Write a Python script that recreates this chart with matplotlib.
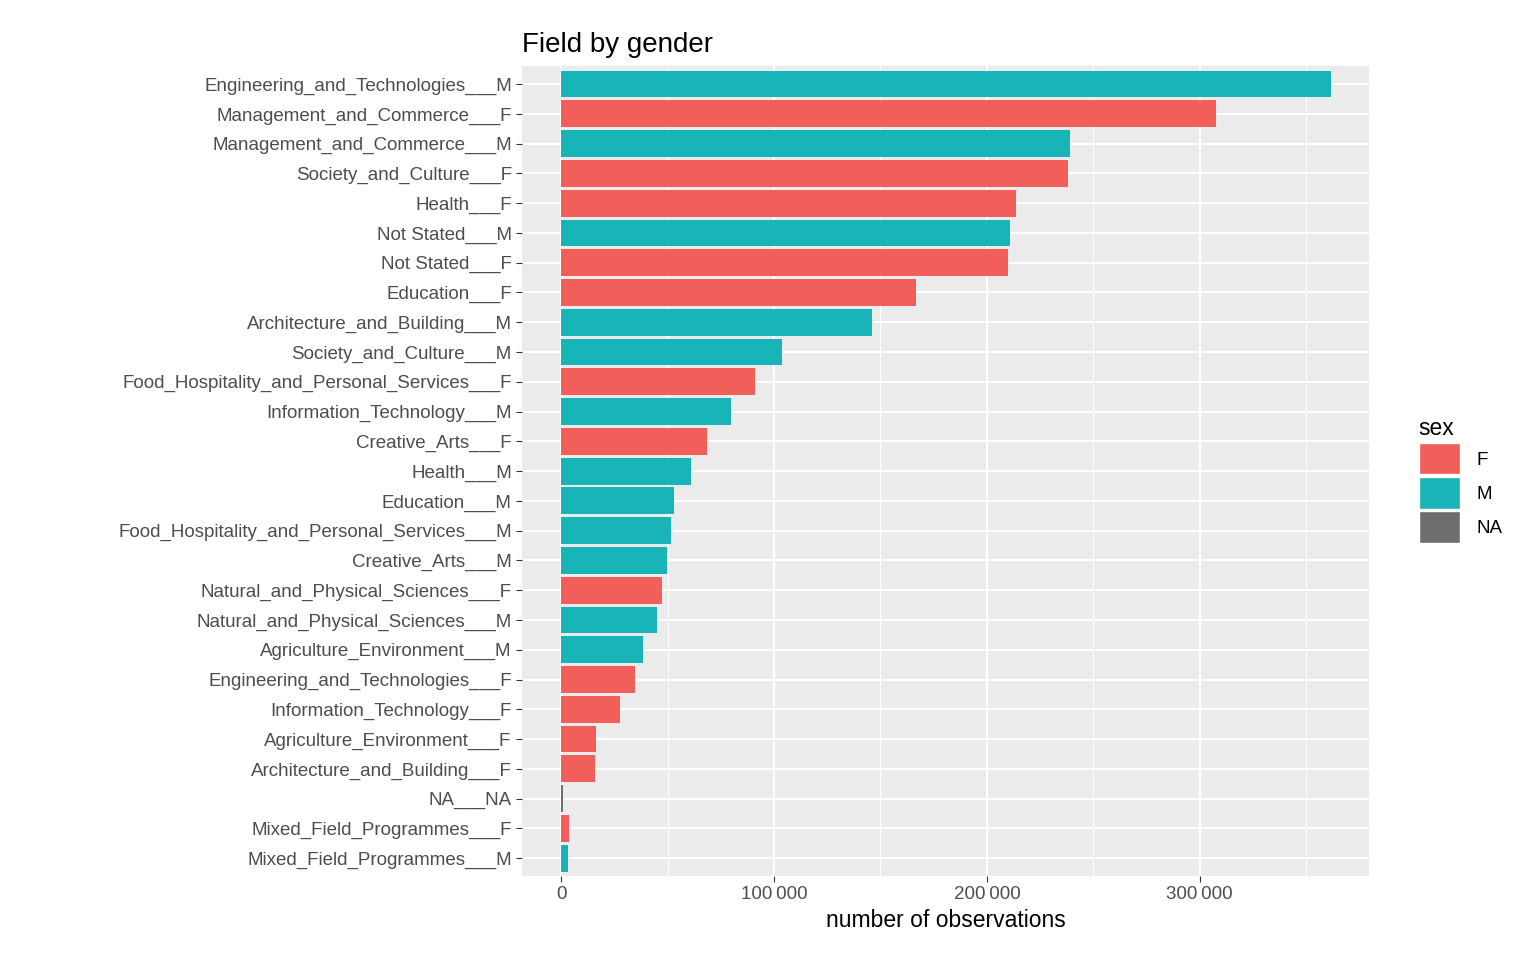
import matplotlib.pyplot as plt
from matplotlib.patches import Patch
from matplotlib.ticker import FuncFormatter, MultipleLocator

plt.rcParams['font.family'] = ['Liberation Sans', 'DejaVu Sans']

labels = [
    'Engineering_and_Technologies___M', 'Management_and_Commerce___F', 'Management_and_Commerce___M',
    'Society_and_Culture___F', 'Health___F', 'Not Stated___M', 'Not Stated___F', 'Education___F',
    'Architecture_and_Building___M', 'Society_and_Culture___M', 'Food_Hospitality_and_Personal_Services___F',
    'Information_Technology___M', 'Creative_Arts___F', 'Health___M', 'Education___M',
    'Food_Hospitality_and_Personal_Services___M', 'Creative_Arts___M', 'Natural_and_Physical_Sciences___F',
    'Natural_and_Physical_Sciences___M', 'Agriculture_Environment___M', 'Engineering_and_Technologies___F',
    'Information_Technology___F', 'Agriculture_Environment___F', 'Architecture_and_Building___F',
    'NA___NA', 'Mixed_Field_Programmes___F', 'Mixed_Field_Programmes___M']
values = [361500, 307500, 239000, 238000, 213600, 210800, 209900, 166700, 146000, 103800, 91100,
          79800, 68500, 61000, 53000, 51600, 49800, 47400, 45100, 38500, 34700, 27700, 16400,
          16000, 900, 3800, 3300]
sex = [l.split('___')[1] for l in labels]

colors = {'F': '#F25E5A', 'M': '#18B4B7', 'NA': '#6E6E6E'}

fig = plt.figure(figsize=(15.36, 9.6), dpi=100)
ax = fig.add_axes([0.34, 0.0875, 0.551, 0.8435])
ax.set_facecolor('#EBEBEB')

n = len(labels)
ypos = list(range(n - 1, -1, -1))
ax.barh(ypos, values, height=0.9, color=[colors[s] for s in sex], zorder=3)

ax.set_xlim(-18300, 379300)
ax.set_ylim(-0.6, n - 0.4)
ax.set_yticks(ypos)
ax.set_yticklabels(labels, fontsize=13.5, color='#4D4D4D')
ax.xaxis.set_major_locator(MultipleLocator(100000))
ax.xaxis.set_minor_locator(MultipleLocator(50000))
ax.xaxis.set_major_formatter(FuncFormatter(lambda v, p: f'{int(v):,}'.replace(',', '\u2009')))
ax.tick_params(axis='x', labelsize=13.5, labelcolor='#4D4D4D', color='#333333', length=4)
ax.tick_params(axis='x', which='minor', length=0)
ax.tick_params(axis='y', color='#333333', length=4)
ax.grid(True, which='major', color='white', linewidth=1.4, zorder=0)
ax.grid(True, which='minor', axis='x', color='white', linewidth=0.7, zorder=0)
for s in ax.spines.values():
    s.set_visible(False)

ax.set_xlabel('number of observations', fontsize=16.5)
ax.set_title('Field by gender', fontsize=20, loc='left', pad=10)

handles = [Patch(facecolor=colors[k], edgecolor='white', label=k) for k in ['F', 'M', 'NA']]
leg = fig.legend(handles=handles, title='sex', loc='center left', bbox_to_anchor=(0.915, 0.5),
                 frameon=False, fontsize=13.5, title_fontsize=16.5, handlelength=2.2, handleheight=2.2,
                 handletextpad=0.9, labelspacing=0.15, borderpad=0.2)
leg._legend_box.align = 'left'

fig.savefig('out.png', dpi=100)
